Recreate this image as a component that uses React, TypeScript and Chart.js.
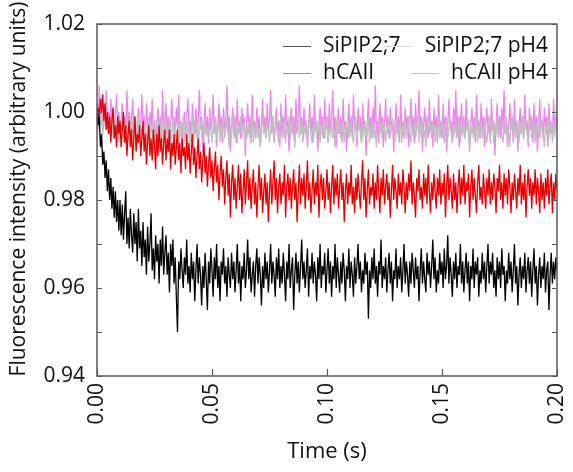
import React, { useEffect, useRef } from "react";
import { Chart, registerables } from "chart.js";

Chart.register(...registerables);

// Sample times (s): one sample every 0.5 ms from 0.000 to 0.200
const timeStartS = 0;
const timeStepS = 0.0005;

const xTickValues = [0, 0.05, 0.1, 0.15, 0.2];
const yTickValues = [0.94, 0.95, 0.96, 0.97, 0.98, 0.99, 1.0, 1.01, 1.02];

const seriesNames = ["SiPIP2;7", "hCAII", "SiPIP2;7 pH4", "hCAII pH4"];

const siPip27 = [
  1.001, 0.997, 0.999, 0.992, 0.995, 0.988, 0.991, 0.985, 0.989, 0.982,
  0.987, 0.980, 0.985, 0.978, 0.983, 0.976, 0.982, 0.975, 0.980, 0.973,
  0.980, 0.972, 0.979, 0.971, 0.977, 0.982, 0.970, 0.976, 0.969, 0.978,
  0.972, 0.968, 0.977, 0.970, 0.975, 0.966, 0.978, 0.969, 0.973, 0.965,
  0.975, 0.967, 0.971, 0.963, 0.974, 0.966, 0.970, 0.977, 0.964, 0.969,
  0.962, 0.972, 0.966, 0.970, 0.961, 0.971, 0.965, 0.974, 0.963, 0.968,
  0.972, 0.963, 0.968, 0.959, 0.970, 0.965, 0.971, 0.961, 0.967, 0.958,
  0.950, 0.966, 0.962, 0.969, 0.964, 0.960, 0.967, 0.963, 0.971, 0.961,
  0.965, 0.959, 0.968, 0.962, 0.966, 0.957, 0.964, 0.970, 0.961, 0.967,
  0.963, 0.956, 0.965, 0.960, 0.968, 0.962, 0.955, 0.966, 0.961, 0.969,
  0.964, 0.958, 0.967, 0.962, 0.970, 0.960, 0.965, 0.957, 0.966, 0.963,
  0.969, 0.961, 0.965, 0.958, 0.967, 0.963, 0.960, 0.968, 0.962, 0.966,
  0.959, 0.964, 0.970, 0.961, 0.966, 0.957, 0.965, 0.962, 0.968, 0.960,
  0.964, 0.971, 0.962, 0.967, 0.959, 0.963, 0.966, 0.958, 0.965, 0.969,
  0.961, 0.967, 0.963, 0.956, 0.965, 0.960, 0.968, 0.962, 0.966, 0.959,
  0.964, 0.970, 0.961, 0.966, 0.963, 0.958, 0.967, 0.962, 0.969, 0.960,
  0.965, 0.961, 0.968, 0.963, 0.957, 0.966, 0.962, 0.970, 0.960, 0.964,
  0.967, 0.955, 0.963, 0.968, 0.961, 0.966, 0.959, 0.965, 0.971, 0.962,
  0.966, 0.960, 0.964, 0.969, 0.958, 0.965, 0.962, 0.968, 0.961, 0.966,
  0.963, 0.957, 0.967, 0.962, 0.970, 0.960, 0.965, 0.963, 0.968, 0.959,
  0.964, 0.969, 0.961, 0.966, 0.958, 0.965, 0.962, 0.970, 0.960, 0.967,
  0.963, 0.959, 0.966, 0.961, 0.968, 0.964, 0.957, 0.965, 0.962, 0.969,
  0.960, 0.966, 0.963, 0.958, 0.967, 0.961, 0.965, 0.970, 0.962, 0.966,
  0.959, 0.964, 0.961, 0.968, 0.963, 0.966, 0.953, 0.964, 0.960, 0.967,
  0.962, 0.969, 0.961, 0.965, 0.958, 0.966, 0.963, 0.971, 0.960, 0.965,
  0.962, 0.967, 0.959, 0.964, 0.968, 0.961, 0.966, 0.957, 0.964, 0.962,
  0.969, 0.960, 0.965, 0.962, 0.967, 0.959, 0.964, 0.970, 0.961, 0.966,
  0.963, 0.958, 0.966, 0.961, 0.968, 0.964, 0.960, 0.967, 0.962, 0.965,
  0.957, 0.964, 0.969, 0.961, 0.966, 0.962, 0.959, 0.968, 0.963, 0.966,
  0.960, 0.965, 0.971, 0.962, 0.967, 0.959, 0.964, 0.961, 0.968, 0.963,
  0.966, 0.960, 0.969, 0.962, 0.965, 0.972, 0.961, 0.967, 0.963, 0.958,
  0.966, 0.962, 0.968, 0.960, 0.965, 0.963, 0.970, 0.961, 0.966, 0.959,
  0.964, 0.968, 0.961, 0.966, 0.957, 0.965, 0.962, 0.969, 0.960, 0.966,
  0.963, 0.967, 0.958, 0.964, 0.961, 0.968, 0.962, 0.966, 0.959, 0.965,
  0.970, 0.961, 0.966, 0.963, 0.968, 0.960, 0.964, 0.958, 0.967, 0.962,
  0.966, 0.960, 0.969, 0.963, 0.965, 0.957, 0.964, 0.961, 0.968, 0.962,
  0.966, 0.959, 0.964, 0.970, 0.961, 0.965, 0.956, 0.963, 0.967, 0.960,
  0.965, 0.962, 0.968, 0.959, 0.964, 0.967, 0.961, 0.966, 0.958, 0.964,
  0.969, 0.961, 0.965, 0.956, 0.963, 0.967, 0.960, 0.965, 0.962, 0.968,
  0.959, 0.964, 0.966, 0.955, 0.963, 0.968, 0.961, 0.966, 0.962, 0.967, 0.964,
];

const hCAII = [
  0.997, 1.001, 0.999, 1.003, 1.000, 1.004, 0.998, 1.002, 0.996, 1.000,
  0.995, 0.999, 0.993, 0.998, 1.001, 0.994, 0.997, 0.992, 0.999, 0.995,
  0.998, 0.992, 0.996, 1.000, 0.993, 0.997, 0.990, 0.995, 0.998, 0.992,
  0.996, 0.989, 0.994, 0.999, 0.991, 0.995, 0.993, 0.997, 0.990, 0.994,
  0.998, 0.991, 0.995, 0.988, 0.993, 0.997, 0.990, 0.994, 0.989, 0.996,
  0.992, 0.987, 0.995, 0.990, 0.997, 0.991, 0.994, 0.988, 0.993, 0.996,
  0.989, 0.994, 0.991, 0.996, 0.987, 0.993, 0.990, 0.995, 0.988, 0.992,
  0.996, 0.989, 0.993, 0.986, 0.994, 0.990, 0.992, 0.987, 0.995, 0.989,
  0.993, 0.986, 0.991, 0.995, 0.988, 0.992, 0.985, 0.990, 0.994, 0.987,
  0.991, 0.984, 0.989, 0.993, 0.986, 0.990, 0.983, 0.988, 0.992, 0.985,
  0.989, 0.982, 0.987, 0.991, 0.984, 0.988, 0.980, 0.986, 0.990, 0.983,
  0.987, 0.979, 0.985, 0.989, 0.981, 0.986, 0.976, 0.984, 0.988, 0.980,
  0.985, 0.978, 0.983, 0.988, 0.980, 0.986, 0.977, 0.982, 0.987, 0.979,
  0.984, 0.989, 0.980, 0.985, 0.978, 0.983, 0.987, 0.979, 0.984, 0.976,
  0.983, 0.988, 0.980, 0.985, 0.977, 0.982, 0.986, 0.979, 0.984, 0.975,
  0.982, 0.987, 0.979, 0.984, 0.989, 0.980, 0.985, 0.977, 0.983, 0.986,
  0.979, 0.984, 0.981, 0.988, 0.976, 0.983, 0.986, 0.980, 0.985, 0.978,
  0.983, 0.987, 0.980, 0.984, 0.975, 0.982, 0.988, 0.979, 0.985, 0.981,
  0.986, 0.978, 0.983, 0.989, 0.980, 0.984, 0.977, 0.982, 0.987, 0.979,
  0.984, 0.981, 0.988, 0.976, 0.983, 0.986, 0.980, 0.985, 0.978, 0.982,
  0.987, 0.980, 0.984, 0.977, 0.983, 0.988, 0.979, 0.985, 0.981, 0.986,
  0.978, 0.983, 0.987, 0.980, 0.984, 0.975, 0.982, 0.986, 0.979, 0.984,
  0.981, 0.988, 0.979, 0.983, 0.977, 0.985, 0.980, 0.986, 0.982, 0.978,
  0.984, 0.989, 0.980, 0.985, 0.976, 0.982, 0.987, 0.979, 0.983, 0.981,
  0.986, 0.978, 0.984, 0.980, 0.988, 0.982, 0.977, 0.985, 0.981, 0.987,
  0.979, 0.983, 0.986, 0.980, 0.984, 0.976, 0.982, 0.988, 0.980, 0.985,
  0.982, 0.978, 0.986, 0.981, 0.984, 0.979, 0.987, 0.983, 0.977, 0.984,
  0.980, 0.986, 0.982, 0.989, 0.979, 0.984, 0.981, 0.976, 0.985, 0.982,
  0.987, 0.980, 0.983, 0.978, 0.986, 0.981, 0.985, 0.979, 0.988, 0.982,
  0.977, 0.984, 0.980, 0.986, 0.982, 0.978, 0.985, 0.981, 0.987, 0.979,
  0.984, 0.981, 0.986, 0.976, 0.983, 0.988, 0.980, 0.985, 0.982, 0.978,
  0.986, 0.980, 0.984, 0.977, 0.983, 0.987, 0.979, 0.985, 0.981, 0.988,
  0.979, 0.984, 0.982, 0.986, 0.976, 0.983, 0.987, 0.980, 0.985, 0.981,
  0.977, 0.984, 0.988, 0.980, 0.983, 0.979, 0.986, 0.982, 0.978, 0.985,
  0.981, 0.987, 0.979, 0.984, 0.980, 0.986, 0.983, 0.977, 0.985, 0.982,
  0.988, 0.980, 0.984, 0.978, 0.986, 0.981, 0.985, 0.979, 0.987, 0.983,
  0.977, 0.984, 0.980, 0.986, 0.982, 0.978, 0.985, 0.981, 0.988, 0.979,
  0.984, 0.980, 0.986, 0.976, 0.983, 0.987, 0.981, 0.985, 0.978, 0.984,
  0.981, 0.987, 0.979, 0.985, 0.982, 0.977, 0.986, 0.980, 0.984, 0.978,
  0.985, 0.981, 0.987, 0.979, 0.983, 0.986, 0.977, 0.984, 0.980, 0.986, 0.982,
];

const siPip27pH4 = [
  0.999, 0.996, 1.001, 0.997, 1.000, 0.995, 0.998, 1.002, 0.996, 0.999,
  0.995, 0.998, 0.996, 1.000, 0.994, 0.997, 0.999, 0.995, 0.998, 0.993,
  0.997, 0.995, 0.999, 0.994, 0.997, 0.996, 0.998, 0.993, 0.996, 0.999,
  0.994, 0.997, 0.995, 0.998, 0.993, 0.996, 0.999, 0.995, 0.997, 0.994,
  0.998, 0.995, 0.997, 0.992, 0.996, 0.999, 0.994, 0.997, 0.995, 0.998,
  0.993, 0.996, 0.998, 0.994, 0.997, 0.995, 0.999, 0.993, 0.996, 0.998,
  0.995, 0.997, 0.993, 0.998, 0.996, 0.994, 0.999, 0.995, 0.997, 0.992,
  0.996, 0.998, 0.994, 0.997, 0.995, 0.999, 0.993, 0.996, 0.998, 0.995,
  0.997, 0.993, 0.996, 0.999, 0.994, 0.997, 0.995, 0.998, 0.992, 0.996,
  0.998, 0.995, 0.997, 0.993, 0.999, 0.995, 0.996, 0.994, 0.998, 0.996,
  0.993, 0.997, 0.995, 0.999, 0.994, 0.996, 0.998, 0.993, 0.997, 0.995,
  0.999, 0.994, 0.996, 0.998, 0.995, 0.992, 0.997, 0.995, 0.999, 0.994,
  0.996, 0.998, 0.993, 0.997, 0.995, 0.999, 0.994, 0.996, 0.998, 0.993,
  0.997, 0.995, 0.998, 0.994, 0.996, 0.999, 0.993, 0.997, 0.995, 0.998,
  0.994, 0.996, 0.992, 0.997, 0.999, 0.995, 0.997, 0.994, 0.998, 0.996,
  0.993, 0.997, 0.995, 0.999, 0.994, 0.996, 0.998, 0.995, 0.993, 0.997,
  0.999, 0.994, 0.996, 0.998, 0.993, 0.997, 0.995, 0.999, 0.994, 0.996,
  0.998, 0.995, 0.992, 0.997, 0.995, 0.999, 0.994, 0.996, 0.998, 0.993,
  0.997, 0.995, 0.998, 0.994, 0.996, 0.999, 0.995, 0.993, 0.997, 0.995,
  0.999, 0.994, 0.996, 0.998, 0.993, 0.997, 0.995, 0.998, 0.994, 0.996,
  0.999, 0.993, 0.997, 0.995, 0.998, 0.994, 0.996, 0.992, 0.997, 0.999,
  0.995, 0.997, 0.994, 0.998, 0.996, 0.993, 0.997, 0.995, 0.999, 0.994,
  0.996, 0.998, 0.995, 0.993, 0.997, 0.999, 0.994, 0.996, 0.998, 0.995,
  0.993, 0.997, 0.995, 0.998, 0.994, 0.996, 0.999, 0.993, 0.997, 0.995,
  0.998, 0.994, 0.996, 0.992, 0.997, 0.999, 0.995, 0.997, 0.994, 0.998,
  0.996, 0.993, 0.997, 0.995, 0.999, 0.994, 0.996, 0.998, 0.995, 0.993,
  0.997, 0.999, 0.994, 0.996, 0.998, 0.993, 0.997, 0.995, 0.998, 0.994,
  0.996, 0.999, 0.995, 0.993, 0.997, 0.995, 0.998, 0.994, 0.996, 0.999,
  0.993, 0.997, 0.995, 0.998, 0.994, 0.996, 0.992, 0.997, 0.999, 0.995,
  0.997, 0.994, 0.998, 0.996, 0.993, 0.997, 0.995, 0.999, 0.994, 0.996,
  0.998, 0.995, 0.993, 0.997, 0.999, 0.994, 0.996, 0.998, 0.995, 0.993,
  0.997, 0.995, 0.998, 0.994, 0.996, 0.999, 0.993, 0.997, 0.995, 0.998,
  0.994, 0.996, 0.999, 0.995, 0.992, 0.997, 0.995, 0.998, 0.994, 0.996,
  0.999, 0.993, 0.997, 0.995, 0.998, 0.994, 0.996, 0.998, 0.995, 0.993,
  0.997, 0.999, 0.994, 0.996, 0.998, 0.993, 0.997, 0.995, 0.999, 0.994,
  0.996, 0.998, 0.995, 0.993, 0.997, 0.995, 0.999, 0.994, 0.996, 0.992,
  0.997, 0.999, 0.995, 0.997, 0.994, 0.998, 0.996, 0.993, 0.997, 0.995,
  0.999, 0.994, 0.996, 0.998, 0.995, 0.993, 0.997, 0.999, 0.994, 0.996,
  0.998, 0.993, 0.997, 0.995, 0.999, 0.994, 0.996, 0.998, 0.995, 0.992,
  0.997, 0.995, 0.999, 0.994, 0.996, 0.998, 0.993, 0.997, 0.995, 0.998, 0.996,
];

const hCAIIpH4 = [
  1.002, 0.998, 1.006, 0.999, 1.003, 0.996, 1.001, 0.997, 1.005, 0.998,
  1.000, 0.995, 1.003, 0.997, 1.001, 0.994, 0.999, 1.004, 0.996, 1.000,
  0.994, 0.998, 1.002, 0.996, 0.999, 0.993, 1.005, 0.997, 1.000, 0.995,
  0.998, 1.003, 0.996, 0.999, 0.992, 0.997, 1.001, 0.995, 0.998, 1.004,
  0.996, 0.999, 0.993, 1.002, 0.997, 0.994, 1.000, 0.996, 1.003, 0.995,
  0.998, 0.992, 0.997, 1.001, 0.995, 0.999, 0.993, 1.005, 0.996, 0.998,
  1.002, 0.995, 0.999, 0.991, 0.997, 1.003, 0.996, 0.999, 0.994, 1.001,
  0.997, 1.004, 0.995, 0.998, 0.992, 0.997, 1.000, 0.994, 0.999, 1.003,
  0.996, 0.998, 0.993, 1.002, 0.997, 0.995, 1.001, 0.994, 0.998, 1.005,
  0.996, 0.999, 0.991, 0.997, 1.002, 0.995, 0.999, 0.993, 1.001, 0.996,
  0.998, 1.004, 0.995, 0.999, 0.992, 0.997, 1.002, 0.996, 0.999, 0.993,
  1.001, 0.996, 0.998, 1.006, 0.995, 0.999, 0.991, 0.997, 1.001, 0.995,
  0.999, 0.993, 1.003, 0.996, 0.998, 0.994, 1.001, 0.996, 0.999, 0.990,
  0.997, 1.002, 0.995, 0.999, 0.993, 1.004, 0.996, 0.998, 0.994, 1.001,
  0.996, 0.999, 0.992, 0.997, 1.003, 0.995, 0.999, 0.994, 1.002, 0.996,
  0.998, 1.005, 0.995, 0.999, 0.993, 0.997, 1.001, 0.995, 0.998, 0.992,
  1.002, 0.996, 0.999, 0.994, 1.004, 0.996, 0.998, 0.991, 0.997, 1.001,
  0.995, 0.999, 0.993, 1.003, 0.996, 0.998, 1.006, 0.995, 0.999, 0.994,
  1.001, 0.996, 0.998, 0.992, 0.997, 1.002, 0.995, 0.999, 0.993, 1.004,
  0.996, 0.998, 0.991, 0.997, 1.001, 0.995, 0.999, 0.994, 1.003, 0.996,
  0.999, 0.993, 1.002, 0.996, 0.998, 1.005, 0.995, 0.999, 0.992, 0.997,
  1.001, 0.995, 0.999, 0.993, 1.003, 0.996, 0.998, 0.991, 0.997, 1.002,
  0.995, 0.999, 0.994, 1.004, 0.996, 0.998, 0.992, 1.001, 0.996, 0.999,
  0.993, 1.002, 0.996, 0.998, 0.990, 0.997, 1.003, 0.995, 0.999, 0.994,
  1.001, 0.996, 1.006, 0.995, 0.998, 0.993, 1.002, 0.996, 0.999, 0.992,
  0.997, 1.003, 0.995, 0.999, 0.994, 1.001, 0.996, 0.998, 0.991, 0.997,
  1.002, 0.995, 0.999, 0.993, 1.004, 0.996, 0.998, 0.994, 1.001, 0.996,
  0.999, 0.992, 0.997, 1.003, 0.995, 0.999, 0.993, 1.002, 0.996, 0.998,
  1.005, 0.995, 0.999, 0.991, 0.997, 1.001, 0.995, 0.999, 0.994, 1.003,
  0.996, 0.998, 0.992, 1.001, 0.996, 0.999, 0.993, 1.004, 0.996, 0.998,
  0.994, 1.002, 0.995, 0.999, 0.991, 0.997, 1.003, 0.996, 0.998, 0.993,
  1.001, 0.996, 1.005, 0.995, 0.999, 0.992, 0.997, 1.002, 0.995, 0.999,
  0.994, 1.003, 0.996, 0.998, 0.991, 0.997, 1.001, 0.995, 0.999, 0.993,
  1.004, 0.996, 0.998, 0.994, 1.002, 0.996, 0.999, 0.992, 0.997, 1.001,
  0.995, 0.999, 0.993, 1.003, 0.996, 0.998, 0.990, 0.997, 1.002, 0.995,
  0.999, 0.994, 1.001, 0.996, 1.005, 0.995, 0.998, 0.992, 0.997, 1.002,
  0.996, 0.999, 0.993, 1.003, 0.995, 0.998, 0.991, 0.997, 1.001, 0.995,
  0.999, 0.994, 1.004, 0.996, 0.998, 0.992, 1.001, 0.996, 0.999, 0.993,
  1.002, 0.995, 0.999, 0.991, 0.997, 1.003, 0.996, 0.998, 0.994, 1.001,
  0.996, 0.999, 0.992, 1.002, 0.995, 0.998, 0.994, 1.003, 0.996, 0.999, 0.996,
];

const seriesValues = [siPip27, hCAII, siPip27pH4, hCAIIpH4];
const seriesColors = ["#000000", "#e60000", "#bfbfbf", "#ee82ee"];
const legendColors = ["#555555", "#c87a7a", "#dcdcdc", "#eba8eb"];

const FONT = "'Open Sans', 'DejaVu Sans', sans-serif";
const TEXT = "#111111";
const AXIS = "#595959";

function toPoints(values: number[]) {
  return values.map((v, i) => ({ x: timeStartS + i * timeStepS, y: v }));
}

const framePlugin = {
  id: "frameAndDecor",
  afterDatasetsDraw(chart: any) {
    const { ctx, chartArea, scales } = chart;
    const { left, right, top, bottom } = chartArea;
    ctx.save();
    ctx.strokeStyle = AXIS;
    ctx.lineWidth = 1.5;
    ctx.strokeRect(left, top, right - left, bottom - top);
    ctx.lineWidth = 1.2;
    ctx.beginPath();
    yTickValues.forEach((v) => {
      const y = Math.round(scales.y.getPixelForValue(v)) + 0.5;
      ctx.moveTo(left, y);
      ctx.lineTo(left + 5, y);
      ctx.moveTo(right, y);
      ctx.lineTo(right - 5, y);
    });
    xTickValues.forEach((v) => {
      const x = Math.round(scales.x.getPixelForValue(v)) + 0.5;
      ctx.moveTo(x, bottom);
      ctx.lineTo(x, bottom - 7);
    });
    ctx.stroke();

    // legend
    ctx.font = `21px ${FONT}`;
    ctx.fillStyle = TEXT;
    ctx.textBaseline = "middle";
    ctx.textAlign = "left";
    const rows = [46, 73];
    const drawItem = (idx: number, textX: number, y: number) => {
      ctx.strokeStyle = legendColors[idx];
      ctx.lineWidth = 1;
      ctx.beginPath();
      ctx.moveTo(textX - 40, Math.round(y) + 0.5);
      ctx.lineTo(textX - 12, Math.round(y) + 0.5);
      ctx.stroke();
      ctx.fillText(seriesNames[idx], textX, y);
    };
    drawItem(0, 323, rows[0]);
    drawItem(1, 323, rows[1]);
    const rightEdge = 548;
    drawItem(2, rightEdge - ctx.measureText(seriesNames[2]).width, rows[0]);
    drawItem(3, rightEdge - ctx.measureText(seriesNames[3]).width, rows[1]);

    // axis titles
    ctx.fillStyle = TEXT;
    ctx.textAlign = "center";
    ctx.textBaseline = "middle";
    ctx.font = `22px ${FONT}`;
    ctx.fillText("Time (s)", (left + right) / 2, 452);
    ctx.font = `21px ${FONT}`;
    ctx.translate(19, 189);
    ctx.rotate(-Math.PI / 2);
    ctx.fillText("Fluorescence intensity (arbitrary units)", 0, 0);
    ctx.restore();
  },
};

export default function App() {
  const canvasRef = useRef<HTMLCanvasElement | null>(null);

  useEffect(() => {
    document.body.style.margin = "0";
    const canvas = canvasRef.current;
    if (!canvas) return;
    const chart = new Chart(canvas, {
      type: "line",
      data: {
        datasets: seriesValues.map((vals, i) => ({
          label: seriesNames[i],
          data: toPoints(vals),
          borderColor: seriesColors[i],
          backgroundColor: seriesColors[i],
          borderWidth: 1.3,
          pointRadius: 0,
          tension: 0,
          fill: false,
        })),
      },
      options: {
        responsive: false,
        animation: false,
        events: [],
        layout: { padding: { top: 24, right: 16, left: 0, bottom: 0 } },
        plugins: {
          legend: { display: false },
          tooltip: { enabled: false },
          title: { display: false },
        },
        scales: {
          x: {
            type: "linear",
            min: 0,
            max: 0.2,
            grid: { display: false, drawTicks: false },
            border: { display: false },
            afterFit: (s: any) => {
              s.height = 96;
              s.paddingLeft = 0;
              s.paddingRight = 0;
            },
            afterBuildTicks: (s: any) => {
              s.ticks = xTickValues.map((v) => ({ value: v }));
            },
            ticks: {
              autoSkip: false,
              minRotation: 90,
              maxRotation: 90,
              padding: 7,
              color: TEXT,
              font: { family: FONT, size: 21 },
              callback: (v: any) => Number(v).toFixed(2),
            },
          },
          y: {
            type: "linear",
            min: 0.94,
            max: 1.02,
            grid: { display: false, drawTicks: false },
            border: { display: false },
            afterFit: (s: any) => {
              s.width = 97;
              s.paddingTop = 0;
              s.paddingBottom = 0;
            },
            afterBuildTicks: (s: any) => {
              s.ticks = yTickValues.map((v) => ({ value: v }));
            },
            ticks: {
              autoSkip: false,
              padding: 12,
              color: TEXT,
              font: { family: FONT, size: 21 },
              callback: (v: any) =>
                Math.round(Number(v) * 100) % 2 === 0 ? Number(v).toFixed(2) : "",
            },
          },
        },
      },
      plugins: [framePlugin],
    });
    return () => chart.destroy();
  }, []);

  return (
    <div style={{ width: 573, height: 472 }}>
      <canvas ref={canvasRef} width={573} height={472} style={{ display: "block" }} />
    </div>
  );
}
